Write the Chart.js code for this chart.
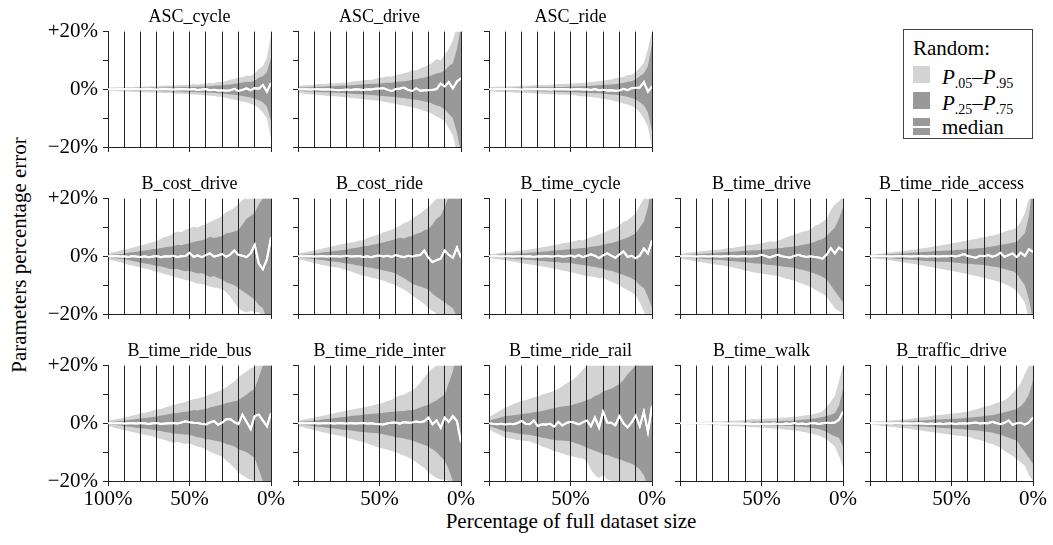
<!DOCTYPE html>
<html><head><meta charset="utf-8">
<script src="https://cdn.jsdelivr.net/npm/chart.js@4/dist/chart.umd.min.js"></script>
<style>
html,body{margin:0;padding:0;background:#fff;}
body{width:1053px;height:545px;position:relative;overflow:hidden;font-family:"Liberation Serif","DejaVu Serif",serif;color:#000;}
canvas{position:absolute;}
.ttl{position:absolute;width:220px;text-align:center;font-size:18px;line-height:18px;white-space:nowrap;}
.axt{position:absolute;font-size:21px;white-space:nowrap;transform:translate(-50%,-50%);}
#leg{position:absolute;left:903px;top:29px;width:130px;height:110px;border:1px solid #444;background:#fff;box-sizing:border-box;}
#leg .tx{position:absolute;left:9px;font-size:21px;line-height:24px;white-space:nowrap;}
#leg .sw{position:absolute;left:9px;width:17px;height:17px;}
#leg sub{font-size:14px;vertical-align:-4px;line-height:0;}
</style></head><body>
<div class="axt" style="left:571px;top:521px;">Percentage of full dataset size</div>
<div class="axt" style="left:19px;top:255px;transform:translate(-50%,-50%) rotate(-90deg);">Parameters percentage error</div>
<div id="leg">
  <div class="tx" style="top:6px;">Random:</div>
  <div class="sw" style="top:36px;background:#d3d3d3;"></div>
  <div class="tx" style="left:38px;top:35px;"><i>P</i><sub>.05</sub>–<i>P</i><sub>.95</sub></div>
  <div class="sw" style="top:62px;background:#999999;"></div>
  <div class="tx" style="left:38px;top:61px;"><i>P</i><sub>.25</sub>–<i>P</i><sub>.75</sub></div>
  <div class="sw" style="top:88px;background:#999999;"><div style="position:absolute;left:0;top:7.5px;width:17px;height:2px;background:#fff;"></div></div>
  <div class="tx" style="left:38px;top:85px;">median</div>
</div>
<script>
// x positions: percentage of full dataset size (100% -> 0%)
const xPct = [100,97.5,95,92.5,90,87.5,85,82.5,80,77.5,75,72.5,70,67.5,65,62.5,60,57.5,55,52.5,50,47.5,45,42.5,40,37.5,35,32.5,30,27.5,25,22.5,20,17.5,15,12.5,10,7.5,5,2.5,0];
const yTicks = [-20,-10,0,10,20];
const titles = ['ASC_cycle','ASC_drive','ASC_ride','B_cost_drive','B_cost_ride','B_time_cycle','B_time_drive','B_time_ride_access','B_time_ride_bus','B_time_ride_inter','B_time_ride_rail','B_time_walk','B_traffic_drive'];

// ---- ASC_cycle
const ascCycleP95 = [0.6,0.6,0.7,0.7,0.8,0.8,0.8,0.9,0.9,1.0, 1.0,1.1,1.0,1.2,1.2,1.3,1.3,1.4,1.5,1.5, 1.6,1.8,1.7,1.9,2.0,2.2,2.1,2.5,2.5,2.9, 3.3,3.6,4.0,4.2,4.8,4.6,5.5,7.0,8.0,11.0, 19];
const ascCycleP75 = [0.3,0.3,0.3,0.4,0.4,0.4,0.4,0.5,0.5,0.5, 0.5,0.6,0.5,0.6,0.6,0.7,0.7,0.7,0.8,0.8, 0.8,0.9,0.9,1.0,1.0,1.1,1.2,1.3,1.3,1.6, 1.7,1.9,2.0,2.4,2.6,2.5,3.0,4.0,4.5,6.0, 11];
const ascCycleMed = [0,0,0,0,0.1,0,0,0.1,0,0, 0.1,0,-0.1,0,0.1,0,-0.1,0,0.1,0, -0.1,0.1,-0.2,-0.1,0.1,-0.3,-0.2,-0.4,-0.3,-0.5, -0.3,0.2,-0.6,-0.2,0.3,-0.4,0.4,0.2,1.5,-0.8, 2.2];
const ascCycleP25 = [-0.3,-0.3,-0.3,-0.4,-0.4,-0.4,-0.5,-0.5,-0.5,-0.6, -0.5,-0.6,-0.6,-0.7,-0.7,-0.7,-0.8,-0.8,-0.8,-0.9, -0.9,-0.9,-1.0,-1.0,-1.1,-1.2,-1.2,-1.4,-1.4,-1.6, -1.8,-1.9,-2.1,-2.3,-2.6,-2.8,-3.2,-3.8,-4.5,-6.0, -11];
const ascCycleP05 = [-0.6,-0.6,-0.7,-0.7,-0.8,-0.8,-0.9,-0.9,-1.0,-1.0, -1.0,-1.1,-1.2,-1.2,-1.3,-1.3,-1.4,-1.5,-1.5,-1.6, -1.7,-1.8,-1.9,-2.0,-2.1,-2.2,-2.3,-2.6,-2.6,-3.0, -3.3,-3.6,-4.0,-4.2,-4.6,-5.0,-5.5,-6.5,-8.0,-10.0, -17];

// ---- ASC_drive
const ascDriveP95 = [1.1,1.3,1.4,1.5,1.7,1.8,1.8,1.9,2.1,2.0, 2.2,2.4,2.3,2.6,2.8,2.9,3.1,3.3,3.2,3.7, 4.0,4.2,4.5,4.4,5.0,5.2,5.6,5.9,6.7,6.5, 7.3,7.8,8.4,9.2,10.5,10.0,12.0,14.0,17.0,22.0, 25];
const ascDriveP75 = [0.5,0.6,0.7,0.7,0.8,0.9,0.9,1.0,1.1,1.1, 1.2,1.3,1.3,1.4,1.5,1.6,1.7,1.8,1.8,1.9, 2.0,2.2,2.3,2.3,2.6,2.7,2.8,3.0,3.3,3.5, 3.8,4.0,4.5,5.0,5.5,5.8,6.5,8.0,9.0,14.0, 22];
const ascDriveMed = [0,0,0,-0.1,0,0,-0.1,0,-0.1,-0.2, -0.3,-0.2,-0.1,-0.2,0,-0.1,-0.2,0,-0.1,0.2, 0.3,0.4,-0.2,-0.6,0.1,0.3,0.6,-0.2,-0.6,0.3, -0.5,-0.3,-0.3,-0.2,0.1,2.0,1.0,2.5,0.3,2.7, 3.8];
const ascDriveP25 = [-0.5,-0.6,-0.7,-0.8,-0.8,-0.9,-1.0,-1.0,-1.1,-1.2, -1.2,-1.3,-1.4,-1.5,-1.6,-1.7,-1.8,-1.9,-2.0,-2.1, -2.2,-2.3,-2.5,-2.6,-2.7,-2.9,-3.0,-3.3,-3.5,-3.6, -3.9,-4.2,-4.5,-5.0,-5.6,-6.0,-7.0,-8.5,-10.0,-15.0, -22];
const ascDriveP05 = [-1.3,-1.4,-1.6,-1.7,-1.8,-2.0,-2.1,-2.2,-2.3,-2.4, -2.5,-2.7,-2.8,-3.0,-3.1,-3.3,-3.4,-3.6,-3.8,-3.9, -4.0,-4.3,-4.6,-4.8,-5.0,-5.4,-5.6,-6.0,-6.2,-6.6, -7.0,-7.5,-7.9,-8.6,-9.5,-10.0,-11.0,-13.5,-16.0,-22.0, -25];

// ---- ASC_ride
const ascRideP95 = [0.8,0.8,0.9,0.9,1.0,1.0,1.1,1.1,1.2,1.2, 1.3,1.4,1.4,1.5,1.5,1.6,1.7,1.8,1.8,1.9, 2.0,2.1,2.2,2.2,2.4,2.5,2.6,2.9,3.0,3.2, 3.4,3.8,4.0,4.3,5.0,5.0,6.0,7.5,9.0,14.0, 20];
const ascRideP75 = [0.3,0.3,0.3,0.4,0.4,0.4,0.5,0.5,0.5,0.5, 0.6,0.6,0.6,0.7,0.7,0.7,0.8,0.8,0.8,0.9, 0.9,1.0,1.0,1.1,1.1,1.2,1.3,1.4,1.5,1.6, 1.7,1.8,2.0,2.2,2.6,2.8,3.5,4.5,5.5,8.0, 15.8];
const ascRideMed = [0,0,0,0,0,0.1,0,0,-0.1,0, 0,0,0.1,0,0,-0.1,0,0.1,0,0, -0.1,0,0.1,-0.1,0,-0.2,0.1,-0.3,-0.2,-0.4, -0.3,-0.5,-0.4,0.2,-0.3,0.4,0.5,0.6,2.5,-0.8, 1.0];
const ascRideP25 = [-0.3,-0.3,-0.4,-0.4,-0.4,-0.5,-0.5,-0.5,-0.6,-0.6, -0.6,-0.7,-0.7,-0.7,-0.8,-0.8,-0.8,-0.9,-0.9,-1.0, -1.0,-1.0,-1.1,-1.2,-1.2,-1.3,-1.4,-1.4,-1.5,-1.7, -1.8,-1.9,-2.1,-2.3,-2.6,-3.0,-3.5,-4.5,-5.5,-8.0, -14.6];
const ascRideP05 = [-0.8,-0.8,-0.9,-0.9,-1.0,-1.0,-1.1,-1.2,-1.2,-1.3, -1.3,-1.4,-1.5,-1.5,-1.6,-1.7,-1.7,-1.8,-1.9,-1.9, -2.0,-2.1,-2.3,-2.4,-2.5,-2.7,-2.8,-3.0,-3.3,-3.5, -3.8,-4.1,-4.5,-4.9,-5.3,-5.8,-6.5,-8.0,-10.0,-13.0, -20];

// ---- B_cost_drive
const costDriveP95 = [1.0,1.3,1.6,2.0,2.3,2.6,3.0,3.4,3.8,4.1, 4.5,5.0,5.3,6.1,6.8,7.0,8.0,8.6,8.3,9.2, 9.6,10.2,10.0,10.8,11.0,11.9,12.5,13.2,14.0,15.3, 16.0,16.8,18.0,19.5,20.5,21.5,22.0,24.0,25.0,25.0, 25];
const costDriveP75 = [0.4,0.5,0.7,0.8,1.0,1.2,1.4,1.6,1.8,2.0, 2.2,2.5,2.6,2.9,3.1,3.3,3.5,4.0,3.8,4.2, 4.5,5.0,5.3,5.6,6.0,6.8,6.3,6.7,7.0,8.0, 8.2,8.6,9.0,11.0,13.0,14.0,15.0,18.0,20.0,25.0, 25];
const costDriveMed = [0,0,0.1,-0.1,0,-0.2,0.1,-0.1,-0.2,0, -0.3,-0.1,0.1,-0.3,0,-0.1,0.2,-0.2,0,0.1, 1.2,-0.2,0.3,-0.3,0.4,1.0,-0.1,0.3,0.8,-0.2, 0.6,2.0,0.5,0.2,-0.3,1.0,4.0,-2.5,-4.5,-1.0, 6.5];
const costDriveP25 = [-0.4,-0.5,-0.7,-0.9,-1.0,-1.3,-1.6,-1.9,-2.2,-2.5, -2.7,-3.0,-3.4,-3.5,-3.9,-4.3,-4.5,-4.4,-4.8,-5.2, -5.0,-5.5,-6.0,-5.8,-6.5,-7.2,-6.8,-7.5,-8.0,-9.0, -9.5,-10.0,-11.0,-12.0,-13.0,-14.0,-15.0,-17.0,-18.0,-22.0, -25];
const costDriveP05 = [-1.0,-1.4,-1.7,-2.1,-2.5,-2.9,-3.2,-3.6,-3.9,-4.2, -4.5,-5.0,-5.4,-5.8,-6.2,-6.6,-7.0,-7.4,-7.8,-8.2, -8.5,-9.0,-9.4,-9.6,-10.0,-10.5,-10.8,-11.0,-11.4,-12.5, -14.0,-16.0,-18.0,-19.0,-19.5,-19.0,-19.2,-19.5,-20.5,-22.0, -25];

// ---- B_cost_ride
const costRideP95 = [1.0,1.2,1.5,1.8,2.0,2.4,2.7,3.0,3.4,3.7, 4.0,4.3,4.5,4.8,5.0,5.5,5.5,6.3,6.8,7.2, 7.7,8.3,8.8,9.2,10.0,10.5,11.5,12.0,13.0,14.0, 14.8,16.0,17.0,18.5,20.0,21.0,22.0,24.0,25.0,25.0, 25];
const costRideP75 = [0.4,0.5,0.7,0.8,1.0,1.1,1.3,1.5,1.7,1.8, 2.0,2.2,2.4,2.7,2.9,3.1,3.5,3.6,3.9,4.2, 4.5,4.8,5.2,5.6,6.0,6.4,6.2,6.8,7.0,7.8, 8.2,9.0,9.5,11.0,13.0,14.0,17.0,21.0,25.0,25.0, 25];
const costRideMed = [0,0,0,0.1,-0.1,0,0.1,-0.1,0,0.1, -0.1,0,0.2,-0.1,0,0.1,-0.2,0,-0.3,0.1, 0.3,-0.1,0.2,-0.2,0.4,0,-0.3,0.2,-0.1,0.3, 0.4,2.0,-0.5,-2.0,-1.3,-0.8,2.0,0.5,-0.5,3.0, -0.5];
const costRideP25 = [-0.4,-0.5,-0.7,-0.8,-1.0,-1.2,-1.3,-1.5,-1.7,-1.9, -2.0,-2.3,-2.5,-2.7,-3.0,-3.2,-3.5,-3.8,-4.0,-4.3, -4.5,-4.9,-5.2,-5.5,-6.0,-6.8,-7.5,-8.5,-9.5,-10.0, -10.5,-11.0,-11.5,-13.0,-14.0,-15.0,-16.0,-17.0,-18.0,-21.0, -25];
const costRideP05 = [-1.0,-1.3,-1.6,-2.0,-2.4,-2.7,-3.0,-3.3,-3.6,-3.8, -4.0,-4.4,-4.8,-5.3,-5.8,-6.2,-6.8,-7.0,-7.4,-7.7, -8.0,-8.5,-9.0,-9.5,-10.0,-10.8,-11.5,-12.5,-13.6,-14.5, -15.5,-16.5,-18.0,-19.0,-20.0,-20.5,-21.0,-22.0,-23.0,-25.0, -25];

// ---- B_time_cycle
const timeCycleP95 = [0.6,0.8,1.0,1.2,1.4,1.5,1.7,1.9,2.1,2.2, 2.4,2.6,2.8,3.1,3.3,3.6,4.0,4.1,4.5,4.7, 5.0,5.3,5.7,5.5,6.2,6.6,7.0,7.6,8.0,8.8, 9.3,9.8,10.8,12.0,12.5,13.5,15.0,17.5,20.0,23.0, 25];
const timeCycleP75 = [0.3,0.4,0.5,0.6,0.7,0.8,0.9,1.0,1.1,1.1, 1.2,1.3,1.4,1.6,1.7,1.8,2.0,2.1,2.2,2.4, 2.5,2.6,2.8,2.9,3.0,3.3,3.5,3.7,4.0,4.4, 4.6,5.0,5.5,6.0,6.5,7.2,8.0,10.0,12.0,17.0, 25];
const timeCycleMed = [0,0,0,-0.1,0,0,-0.1,0,0,-0.1, 0,-0.2,0,-0.1,0.1,-0.1,0,0.2,-0.1,0, 0.3,-0.2,0.4,-0.3,0.2,0.7,0.2,-0.6,0.3,1.0, 0.2,-0.5,0.6,1.7,-0.2,0.2,-0.7,0.3,2.7,1.0, 5.5];
const timeCycleP25 = [-0.3,-0.4,-0.5,-0.6,-0.7,-0.8,-0.9,-1.0,-1.1,-1.2, -1.2,-1.4,-1.5,-1.6,-1.7,-1.9,-2.0,-2.1,-2.3,-2.2, -2.3,-2.6,-2.8,-3.0,-3.2,-3.5,-3.7,-4.0,-4.3,-4.8, -5.0,-5.5,-6.0,-6.5,-7.0,-7.6,-8.5,-10.0,-11.0,-14.0, -18];
const timeCycleP05 = [-0.6,-0.8,-1.0,-1.2,-1.4,-1.6,-1.9,-2.1,-2.4,-2.6, -2.8,-3.0,-3.3,-3.5,-3.8,-4.0,-4.3,-4.6,-4.9,-5.2, -5.5,-5.8,-6.2,-6.5,-7.0,-7.0,-7.2,-7.6,-7.4,-8.2, -8.8,-9.4,-10.0,-11.0,-11.8,-12.5,-13.6,-16.0,-19.0,-23.0, -25];

// ---- B_time_drive
const timeDriveP95 = [0.8,1.0,1.2,1.4,1.6,1.7,1.8,2.0,2.1,2.3, 2.4,2.6,2.8,3.0,3.2,3.4,3.7,4.0,4.0,4.3, 4.5,4.8,5.2,5.0,5.5,5.9,6.5,7.0,7.5,8.0, 8.5,8.8,9.2,10.5,11.0,12.0,13.0,16.0,18.0,19.0, 21];
const timeDriveP75 = [0.3,0.4,0.5,0.6,0.7,0.8,0.9,1.0,1.1,1.2, 1.3,1.4,1.5,1.6,1.7,1.8,1.9,2.0,2.1,2.1, 2.2,2.4,2.5,2.6,2.8,2.9,3.1,3.2,3.4,3.7, 3.9,4.2,4.5,5.0,5.6,6.0,7.0,8.5,10.0,13.0, 17];
const timeDriveMed = [0,0,0,0,-0.1,0,0,-0.1,0,0, -0.1,0,0,0.1,-0.1,0,0.1,-0.1,0,0.1, 0.5,0.1,-0.4,0.1,0.5,0,-0.2,-0.5,0.1,0.5, 0.1,-0.2,0,-0.2,-0.4,-0.8,0.6,2.8,1.0,3.0, 2.0];
const timeDriveP25 = [-0.3,-0.4,-0.5,-0.6,-0.7,-0.8,-0.9,-1.0,-1.1,-1.2, -1.3,-1.4,-1.6,-1.7,-1.8,-2.0,-2.1,-2.2,-2.4,-2.5, -2.6,-2.8,-3.0,-3.1,-3.3,-3.5,-3.7,-3.8,-4.0,-4.4, -4.7,-5.0,-5.5,-6.0,-6.5,-7.2,-8.0,-10.0,-12.0,-14.0, -16];
const timeDriveP05 = [-0.8,-1.0,-1.3,-1.5,-1.8,-2.0,-2.2,-2.5,-2.7,-2.9, -3.0,-3.3,-3.6,-3.9,-4.2,-4.5,-5.0,-5.2,-5.5,-5.8, -6.0,-6.2,-6.5,-6.6,-6.8,-7.3,-7.8,-8.0,-8.5,-9.0, -9.5,-10.0,-10.5,-11.5,-12.2,-13.0,-14.0,-16.0,-18.0,-19.0, -20];

// ---- B_time_ride_access
const rideAccessP95 = [0.6,0.7,0.9,1.0,1.2,1.3,1.5,1.7,1.9,2.0, 2.2,2.4,2.6,2.8,3.0,3.2,3.5,3.7,4.0,4.2, 4.5,4.7,5.0,5.2,5.5,5.8,6.0,6.4,6.5,7.0, 7.2,7.5,8.0,8.5,9.0,9.3,10.0,12.0,15.0,20.0, 25];
const rideAccessP75 = [0.3,0.4,0.5,0.5,0.6,0.7,0.8,0.9,1.0,1.1, 1.2,1.3,1.4,1.5,1.6,1.7,1.8,1.8,1.9,2.0, 2.0,2.2,2.3,2.4,2.5,2.6,2.7,2.8,3.0,3.2, 3.4,3.7,4.0,4.2,4.4,4.7,5.0,6.5,8.0,14.0, 25];
const rideAccessMed = [0,0,0,0,0,-0.1,0,0.1,0,0, -0.1,0,0.1,0,-0.1,0.1,0,-0.1,0.1,0, 0.2,-0.1,0.3,0.8,0.1,-0.2,-0.5,0.2,0,0.4, -0.1,0.3,1.2,-0.2,0.4,1.0,-0.3,1.3,0.1,2.5, 1.5];
const rideAccessP25 = [-0.3,-0.4,-0.5,-0.5,-0.6,-0.7,-0.8,-0.9,-1.0,-1.1, -1.2,-1.3,-1.4,-1.5,-1.6,-1.7,-1.8,-1.9,-1.9,-2.0, -2.0,-2.2,-2.3,-2.5,-2.6,-2.7,-2.8,-2.9,-3.0,-3.3, -3.5,-3.7,-4.0,-4.4,-4.8,-5.2,-6.0,-8.0,-10.0,-15.0, -22];
const rideAccessP05 = [-0.6,-0.7,-0.9,-1.0,-1.2,-1.4,-1.6,-1.9,-2.1,-2.3, -2.5,-2.7,-3.0,-3.2,-3.5,-3.7,-4.0,-4.3,-4.5,-4.8, -5.0,-5.3,-5.6,-5.9,-6.2,-6.5,-6.8,-7.1,-7.5,-7.8, -8.2,-8.6,-9.0,-9.6,-10.2,-11.0,-12.0,-14.0,-16.0,-22.0, -25];

// ---- B_time_ride_bus
const rideBusP95 = [1.0,1.2,1.4,1.7,2.0,2.3,2.7,3.0,3.4,3.7, 4.0,4.4,4.8,5.0,5.5,6.0,6.3,6.8,7.0,7.5, 8.0,8.3,8.6,9.0,9.5,10.0,10.5,11.0,11.5,12.5, 13.5,14.5,16.0,17.0,18.0,19.0,19.5,21.0,22.0,25.0, 25];
const rideBusP75 = [0.4,0.5,0.6,0.8,1.0,1.1,1.3,1.5,1.7,1.8, 2.0,2.2,2.4,2.7,2.9,3.2,3.5,3.6,3.8,4.0, 4.2,4.6,4.4,4.8,5.0,5.5,5.8,6.2,6.5,7.0, 7.3,7.6,8.0,9.0,10.0,11.0,12.0,16.0,20.0,25.0, 25];
const rideBusMed = [0,0,0,0.1,-0.1,0,0,-0.1,0.1,0, -0.2,0,0.1,-0.2,-0.1,0,0.1,-0.1,0.3,0.7, 0.4,0.2,0.1,-0.2,-0.4,0.3,0.8,-0.5,0.2,1.4, 1.5,0.4,-0.3,3.0,0.5,-2.0,2.5,3.0,1.0,-1.0, 3.5];
const rideBusP25 = [-0.4,-0.5,-0.6,-0.8,-1.0,-1.2,-1.3,-1.5,-1.7,-1.8, -2.0,-2.2,-2.5,-2.7,-3.0,-3.2,-3.5,-3.6,-3.8,-3.9, -4.0,-4.4,-4.8,-5.0,-5.5,-5.6,-6.0,-6.2,-6.5,-7.2, -7.5,-8.0,-9.0,-9.5,-10.0,-11.0,-12.0,-16.0,-20.0,-25.0, -25];
const rideBusP05 = [-1.0,-1.3,-1.7,-2.0,-2.4,-2.7,-3.0,-3.4,-3.7,-4.0, -4.2,-4.6,-5.0,-5.4,-5.8,-6.3,-6.8,-6.5,-6.8,-7.2, -7.0,-7.5,-8.0,-8.5,-9.0,-9.8,-10.5,-11.0,-11.5,-13.0, -14.0,-15.5,-17.0,-18.0,-19.0,-19.5,-20.0,-21.0,-22.0,-25.0, -25];

// ---- B_time_ride_inter
const rideInterP95 = [1.0,1.2,1.5,1.7,2.0,2.3,2.6,2.9,3.2,3.5, 3.8,4.1,4.4,4.7,5.0,5.2,5.5,5.8,6.1,6.5, 6.8,7.2,7.7,8.2,9.0,9.6,10.0,10.8,11.4,12.5, 14.0,16.0,17.6,19.0,20.0,20.5,21.0,22.0,24.0,25.0, 25];
const rideInterP75 = [0.4,0.5,0.7,0.8,1.0,1.1,1.3,1.5,1.6,1.8, 2.0,2.2,2.3,2.5,2.7,2.8,3.0,3.1,3.2,3.4, 3.5,3.7,3.8,4.0,4.1,4.2,4.3,4.5,4.5,5.0, 5.5,6.0,6.5,7.2,8.0,9.0,10.0,14.0,18.0,25.0, 25];
const rideInterMed = [0,0,0,0,0.1,-0.1,0,0.1,0,-0.1, 0.1,0,-0.1,0.1,-0.1,0,0.1,-0.1,0,-0.2, -0.3,-0.4,0,0.2,0.3,-0.1,0.4,0.2,0.3,0.6, 0.4,0.7,2.0,-0.3,1.0,-1.5,2.0,0.5,2.5,0.8, -6.6];
const rideInterP25 = [-0.4,-0.5,-0.7,-0.8,-1.0,-1.2,-1.3,-1.5,-1.7,-1.8, -2.0,-2.2,-2.3,-2.5,-2.7,-2.9,-3.0,-3.2,-3.3,-3.4, -3.5,-3.8,-4.1,-4.4,-4.8,-5.0,-5.3,-5.6,-6.0,-6.5, -7.0,-7.5,-8.0,-9.0,-10.0,-11.5,-13.0,-16.0,-20.0,-25.0, -25];
const rideInterP05 = [-1.0,-1.3,-1.7,-2.0,-2.4,-2.7,-3.1,-3.4,-3.7,-4.0, -4.2,-4.6,-5.0,-5.4,-5.8,-6.2,-6.5,-7.0,-7.5,-8.0, -8.5,-8.8,-9.2,-9.6,-10.0,-10.6,-11.2,-11.8,-12.5,-13.5, -14.5,-15.5,-17.0,-18.0,-19.0,-19.5,-19.5,-20.0,-22.0,-25.0, -25];

// ---- B_time_ride_rail
const rideRailP95 = [2.2,3.0,3.8,4.6,5.6,6.0,6.8,7.2,7.8,8.0, 8.5,9.0,9.2,10.0,10.3,10.8,11.3,12.0,12.8,13.8, 14.7,15.5,17.0,18.5,20.0,21.0,22.0,23.0,24.0,25.0, 25,25,25,25,25,25,25,25,25,25, 25];
const rideRailP75 = [0.9,1.3,1.7,2.1,2.5,2.6,2.8,3.0,3.2,3.4, 3.5,3.8,4.0,4.3,4.6,5.0,5.3,5.6,5.8,6.0, 6.2,6.6,7.0,7.5,8.0,8.5,9.5,10.0,11.0,11.5, 12.0,12.8,13.6,15.0,17.0,18.5,20.0,22.0,25.0,25.0, 25];
const rideRailMed = [0,-0.2,-0.3,-0.2,-0.4,-0.2,-0.3,0.1,0.8,-0.2, -0.3,1.0,-1.0,-0.3,-0.4,-0.2,-1.2,0.5,-0.8,0.1, 0.5,0.2,-0.4,0.3,1.0,-1.0,2.0,-1.5,4.0,0.3, 0.2,-0.7,2.5,0,-1.4,0.3,2.7,-1.0,4.0,-3.0, 6.0];
const rideRailP25 = [-0.9,-1.4,-1.9,-2.4,-2.8,-3.0,-3.3,-3.5,-3.8,-3.9, -4.0,-4.3,-4.6,-5.0,-5.2,-5.5,-5.8,-6.0,-6.0,-6.1, -6.2,-6.8,-7.2,-7.8,-8.5,-9.0,-9.5,-10.0,-10.8,-11.0, -11.5,-12.0,-12.5,-13.0,-13.5,-14.0,-14.8,-16.0,-18.0,-22.0, -25];
const rideRailP05 = [-2.2,-2.8,-3.5,-4.2,-5.0,-5.2,-5.4,-5.8,-6.0,-6.1, -6.2,-6.8,-7.2,-8.0,-8.5,-9.0,-9.6,-10.0,-10.5,-11.0, -11.3,-11.6,-12.0,-12.2,-13.0,-16.0,-18.0,-19.0,-18.0,-19.5, -20.0,-20.5,-21.0,-21.5,-22.0,-22.5,-23.0,-24.0,-25.0,-25.0, -25];

// ---- B_time_walk
const timeWalkP95 = [0.3,0.3,0.4,0.4,0.5,0.5,0.5,0.6,0.6,0.7, 0.7,0.8,0.9,0.9,1.0,1.1,1.2,1.3,1.4,1.4, 1.5,1.6,1.7,1.7,1.8,1.9,2.0,2.1,2.2,2.4, 2.6,2.8,3.0,3.3,3.6,4.2,5.7,7.5,9.5,14.7, 20];
const timeWalkP75 = [0.15,0.15,0.2,0.2,0.2,0.25,0.25,0.3,0.3,0.3, 0.35,0.35,0.4,0.4,0.45,0.45,0.5,0.5,0.55,0.6, 0.6,0.65,0.7,0.7,0.75,0.8,0.85,0.9,1.0,1.1, 1.2,1.3,1.5,1.7,1.9,2.2,2.5,3.0,3.5,6.0, 12];
const timeWalkMed = [0,0,0,0,0,0,-0.05,0,0,-0.05, 0,-0.1,-0.05,-0.1,-0.1,-0.1,-0.15,-0.1,-0.2,-0.15, -0.2,-0.15,-0.25,-0.1,-0.2,-0.3,-0.1,-0.2,0.1,-0.2, -0.1,-0.3,0,0.1,-0.2,0,0.2,0.1,0.3,1.2, 4.0];
const timeWalkP25 = [-0.15,-0.15,-0.2,-0.2,-0.2,-0.25,-0.25,-0.3,-0.3,-0.3, -0.35,-0.4,-0.4,-0.45,-0.45,-0.5,-0.5,-0.55,-0.6,-0.6, -0.6,-0.65,-0.7,-0.75,-0.8,-0.85,-0.9,-0.95,-1.0,-1.1, -1.2,-1.35,-1.5,-1.7,-2.0,-2.4,-3.0,-3.8,-4.5,-5.0, -8];
const timeWalkP05 = [-0.3,-0.3,-0.4,-0.4,-0.5,-0.5,-0.6,-0.6,-0.7,-0.7, -0.7,-0.8,-0.9,-1.0,-1.0,-1.1,-1.2,-1.3,-1.4,-1.4, -1.5,-1.6,-1.7,-1.8,-1.9,-2.0,-2.2,-2.3,-2.5,-2.7, -2.9,-3.2,-3.5,-3.8,-4.2,-4.8,-5.5,-6.8,-8.0,-11.3, -15];

// ---- B_traffic_drive
const trafficP95 = [0.5,0.6,0.7,0.8,1.0,1.0,1.1,1.2,1.3,1.4, 1.6,1.8,1.9,2.1,2.3,2.5,2.8,2.9,3.0,3.2, 3.4,3.5,3.6,3.9,4.0,4.4,4.8,5.2,5.7,6.0, 6.4,7.0,7.4,8.0,9.0,10.5,12.0,14.0,17.0,20.0, 22];
const trafficP75 = [0.2,0.25,0.3,0.35,0.4,0.45,0.5,0.55,0.6,0.7, 0.8,0.85,0.9,1.0,1.1,1.2,1.3,1.3,1.4,1.5, 1.5,1.6,1.7,1.8,1.9,2.0,2.2,2.3,2.5,2.7, 2.8,3.1,3.5,3.8,4.2,4.6,5.0,6.0,7.5,10.0, 15];
const trafficMed = [0,0,0,0,0,-0.1,0,0,-0.1,0, -0.1,-0.1,0,-0.1,-0.2,-0.1,-0.2,-0.1,-0.2,-0.1, -0.1,-0.2,-0.1,0,-0.1,0.1,0.3,-0.1,0.1,0, 0.5,0.1,-0.3,0.2,1.0,-0.5,0,0.2,-0.5,0.3, 2.0];
const trafficP25 = [-0.2,-0.25,-0.3,-0.35,-0.4,-0.5,-0.55,-0.6,-0.7,-0.75, -0.8,-0.9,-1.0,-1.1,-1.2,-1.3,-1.4,-1.5,-1.6,-1.7, -1.8,-1.9,-2.0,-2.1,-2.2,-2.4,-2.5,-2.6,-2.8,-3.0, -3.2,-3.6,-4.0,-4.5,-5.0,-5.5,-6.0,-8.0,-10.0,-12.0, -14];
const trafficP05 = [-0.5,-0.6,-0.7,-0.9,-1.0,-1.2,-1.3,-1.5,-1.7,-1.8, -2.0,-2.2,-2.4,-2.6,-2.8,-3.0,-3.2,-3.4,-3.6,-3.8, -4.0,-4.2,-4.3,-4.5,-4.7,-5.0,-5.5,-5.8,-6.2,-6.8, -7.2,-7.8,-8.5,-9.5,-10.5,-11.3,-12.5,-13.5,-14.7,-18.0, -20];

const panelSeries = [
  [ascCycleP95, ascCycleP75, ascCycleMed, ascCycleP25, ascCycleP05],
  [ascDriveP95, ascDriveP75, ascDriveMed, ascDriveP25, ascDriveP05],
  [ascRideP95, ascRideP75, ascRideMed, ascRideP25, ascRideP05],
  [costDriveP95, costDriveP75, costDriveMed, costDriveP25, costDriveP05],
  [costRideP95, costRideP75, costRideMed, costRideP25, costRideP05],
  [timeCycleP95, timeCycleP75, timeCycleMed, timeCycleP25, timeCycleP05],
  [timeDriveP95, timeDriveP75, timeDriveMed, timeDriveP25, timeDriveP05],
  [rideAccessP95, rideAccessP75, rideAccessMed, rideAccessP25, rideAccessP05],
  [rideBusP95, rideBusP75, rideBusMed, rideBusP25, rideBusP05],
  [rideInterP95, rideInterP75, rideInterMed, rideInterP25, rideInterP05],
  [rideRailP95, rideRailP75, rideRailMed, rideRailP25, rideRailP05],
  [timeWalkP95, timeWalkP75, timeWalkMed, timeWalkP25, timeWalkP05],
  [trafficP95, trafficP75, trafficMed, trafficP25, trafficP05]
];
const gridPos = [[0,0],[0,1],[0,2],[1,0],[1,1],[1,2],[1,3],[1,4],[2,0],[2,1],[2,2],[2,3],[2,4]];

// ---- layout & style
const COL_X = [108, 298, 489, 680, 870];
const ROW_Y = [30, 197, 364];
const PW = 163, PH = 117;
const L = 70, T = 16, R = 24, B = 34;
const LIGHT = '#d3d3d3', DARK = '#999999', AXC = '#222222';
Chart.defaults.font.family = '"Liberation Serif","DejaVu Serif",serif';
Chart.defaults.color = '#000';

const medianOnTop = {
  id: 'medianOnTop',
  afterDraw(chart) {
    const a = chart.chartArea, ctx = chart.ctx;
    ctx.save();
    ctx.beginPath();
    ctx.rect(a.left, a.top, a.right - a.left, a.bottom - a.top);
    ctx.clip();
    chart.getDatasetMeta(2).controller.draw();
    ctx.restore();
  }
};

const pts = arr => xPct.map((x, i) => ({x: x, y: arr[i]}));

titles.forEach((title, k) => {
  const [r, c] = gridPos[k];
  const s = panelSeries[k];
  const cv = document.createElement('canvas');
  cv.width = L + PW + R; cv.height = T + PH + B;
  cv.style.left = (COL_X[c] - L) + 'px';
  cv.style.top = (ROW_Y[r] - T) + 'px';
  cv.style.width = cv.width + 'px'; cv.style.height = cv.height + 'px';
  document.body.appendChild(cv);
  const tt = document.createElement('div');
  tt.className = 'ttl';
  tt.textContent = title;
  tt.style.left = (COL_X[c] + PW / 2 - 110) + 'px';
  tt.style.top = (ROW_Y[r] - 23) + 'px';
  document.body.appendChild(tt);

  const band = (arr, fill, color, order) => ({data: pts(arr), fill: fill, backgroundColor: color, borderColor: 'rgba(0,0,0,0)', borderWidth: 0, pointRadius: 0, order: order, clip: 0, tension: 0});
  new Chart(cv, {
    type: 'line',
    data: {datasets: [
      band(s[0], '+4', LIGHT, 3),
      band(s[1], '+2', DARK, 2),
      {data: pts(s[2]), fill: false, borderColor: '#ffffff', borderWidth: 2, pointRadius: 0, order: 1, clip: 0, tension: 0},
      band(s[3], false, 'rgba(0,0,0,0)', 4),
      band(s[4], false, 'rgba(0,0,0,0)', 5)
    ]},
    plugins: [medianOnTop],
    options: {
      responsive: false, animation: false, devicePixelRatio: 1,
      layout: {padding: {left: 0, top: T, right: R, bottom: 0}},
      plugins: {legend: {display: false}, tooltip: {enabled: false}, title: {display: false}},
      events: [],
      scales: {
        x: {
          type: 'linear', min: 0, max: 100, reverse: true,
          afterFit: sc => { sc.height = B; },
          grid: {display: true, drawOnChartArea: true, color: AXC, lineWidth: 1, z: 1, drawTicks: true, tickLength: 5,
                 tickColor: ctx => (ctx.tick && ctx.tick.value % 50 === 0) ? AXC : 'rgba(0,0,0,0)'},
          border: {display: true, color: AXC, width: 1, z: 1},
          ticks: {stepSize: 10, autoSkip: false, maxRotation: 0, minRotation: 0, padding: 1, font: {size: 21}, color: '#000',
                  callback: v => (r === 2 && v % 50 === 0 && !(c > 0 && v === 100)) ? v + '%' : ''}
        },
        y: {
          type: 'linear', min: -20, max: 20,
          afterFit: sc => { sc.width = L; },
          afterBuildTicks: sc => { sc.ticks = yTicks.map(v => ({value: v})); },
          grid: {display: true, drawOnChartArea: false, drawTicks: true, tickLength: 5, tickColor: AXC},
          border: {display: true, color: AXC, width: 1, z: 1},
          ticks: {padding: 5, font: {size: 21}, color: '#000',
                  callback: v => c === 0 ? (v === 20 ? '+20%' : v === 0 ? '0%' : v === -20 ? '\u221220%' : '') : ''}
        }
      }
    }
  });
});
</script>
</body></html>
